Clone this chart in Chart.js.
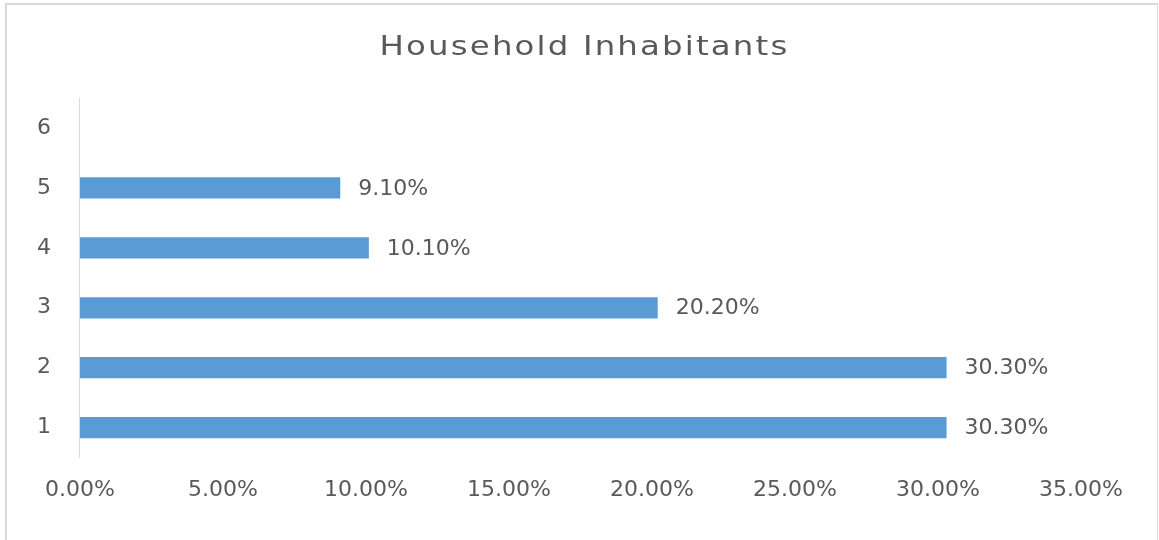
<!DOCTYPE html>
<html lang="en">
<head>
<meta charset="UTF-8">
<title>Household Inhabitants</title>
<script src="https://cdn.jsdelivr.net/npm/chart.js@4.4.0/dist/chart.umd.min.js"></script>
<style>
  html, body { margin: 0; padding: 0; background: #fff; }
  #wrap { position: relative; width: 1159px; height: 540px; overflow: hidden; }
  #frame { position: absolute; left: 5px; top: 3px; width: 1150px; height: 580px;
           border: 2px solid #d9d9d9; border-right-width: 1px; pointer-events: none; }
  canvas { position: absolute; left: 0; top: 0; }
</style>
</head>
<body>
<div id="wrap">
  <canvas id="inhabChart" width="1159" height="540"></canvas>
  <div id="frame"></div>
</div>
<script>
// household size categories, bottom to top
var householdSizes = ['1', '2', '3', '4', '5', '6'];
// share of households, in percent (6 has no bar)
var sharePercent = [30.3, 30.3, 20.2, 10.1, 9.1, null];
// x axis ticks, in percent
var xTicks = [0, 5, 10, 15, 20, 25, 30, 35];

var textColor = '#595959';
var fontFamily = '"DejaVu Sans", sans-serif';

// value labels at the end of each bar
var barValueLabels = {
  id: 'barValueLabels',
  afterDatasetsDraw: function(chart) {
    var ctx = chart.ctx;
    var meta = chart.getDatasetMeta(0);
    ctx.save();
    ctx.font = '22px ' + fontFamily;
    ctx.fillStyle = textColor;
    ctx.textAlign = 'left';
    ctx.textBaseline = 'middle';
    meta.data.forEach(function(bar, i) {
      var v = sharePercent[i];
      if (v == null) return;
      var p = bar.getProps(['x', 'y'], true);
      ctx.fillText(v.toFixed(2) + '%', p.x + 18, p.y + 1);
    });
    ctx.restore();
  }
};

// the title in the picture is drawn wide, so stretch it a bit
var stretchTitle = {
  id: 'stretchTitle',
  afterInit: function(chart) {
    var block = chart.titleBlock;
    if (!block) return;
    var draw = block.draw.bind(block);
    block.draw = function() {
      var ctx = block.ctx;
      var cx = (block.left + block.right) / 2;
      ctx.save();
      ctx.translate(cx + 40, 0);
      ctx.scale(1.2, 1);
      ctx.translate(-cx, 0);
      ctx.letterSpacing = '1.8px';
      draw();
      ctx.restore();
    };
  }
};

var config = {
  type: 'bar',
  data: {
    labels: householdSizes,
    datasets: [{
      data: sharePercent,
      backgroundColor: '#5b9bd5',
      borderWidth: 0,
      categoryPercentage: 1,
      barPercentage: 0.355
    }]
  },
  options: {
    responsive: false,
    animation: false,
    indexAxis: 'y',
    layout: {
      padding: { left: 8, right: 78, top: 31, bottom: 18 }
    },
    plugins: {
      legend: { display: false },
      tooltip: { enabled: false },
      title: {
        display: true,
        text: 'Household Inhabitants',
        color: textColor,
        font: { family: fontFamily, size: 27, weight: 'normal' },
        padding: { top: 1, bottom: 33.6 }
      }
    },
    scales: {
      x: {
        min: 0,
        max: 35,
        grid: { display: false, drawTicks: false },
        border: { display: false },
        afterBuildTicks: function(axis) {
          axis.ticks = xTicks.map(function(v) { return { value: v }; });
        },
        ticks: {
          padding: 19,
          color: textColor,
          font: { family: fontFamily, size: 22 },
          callback: function(v) { return v.toFixed(2) + '%'; }
        }
      },
      y: {
        reverse: true,
        grid: { display: false, drawTicks: false },
        border: { display: true, color: '#d9d9d9', width: 1 },
        ticks: {
          padding: 29,
          color: textColor,
          font: { family: fontFamily, size: 22 }
        }
      }
    }
  },
  plugins: [barValueLabels, stretchTitle]
};

window.onload = function() {
  var ctx = document.getElementById('inhabChart').getContext('2d');
  window.myChart = new Chart(ctx, config);
};
</script>
</body>
</html>
